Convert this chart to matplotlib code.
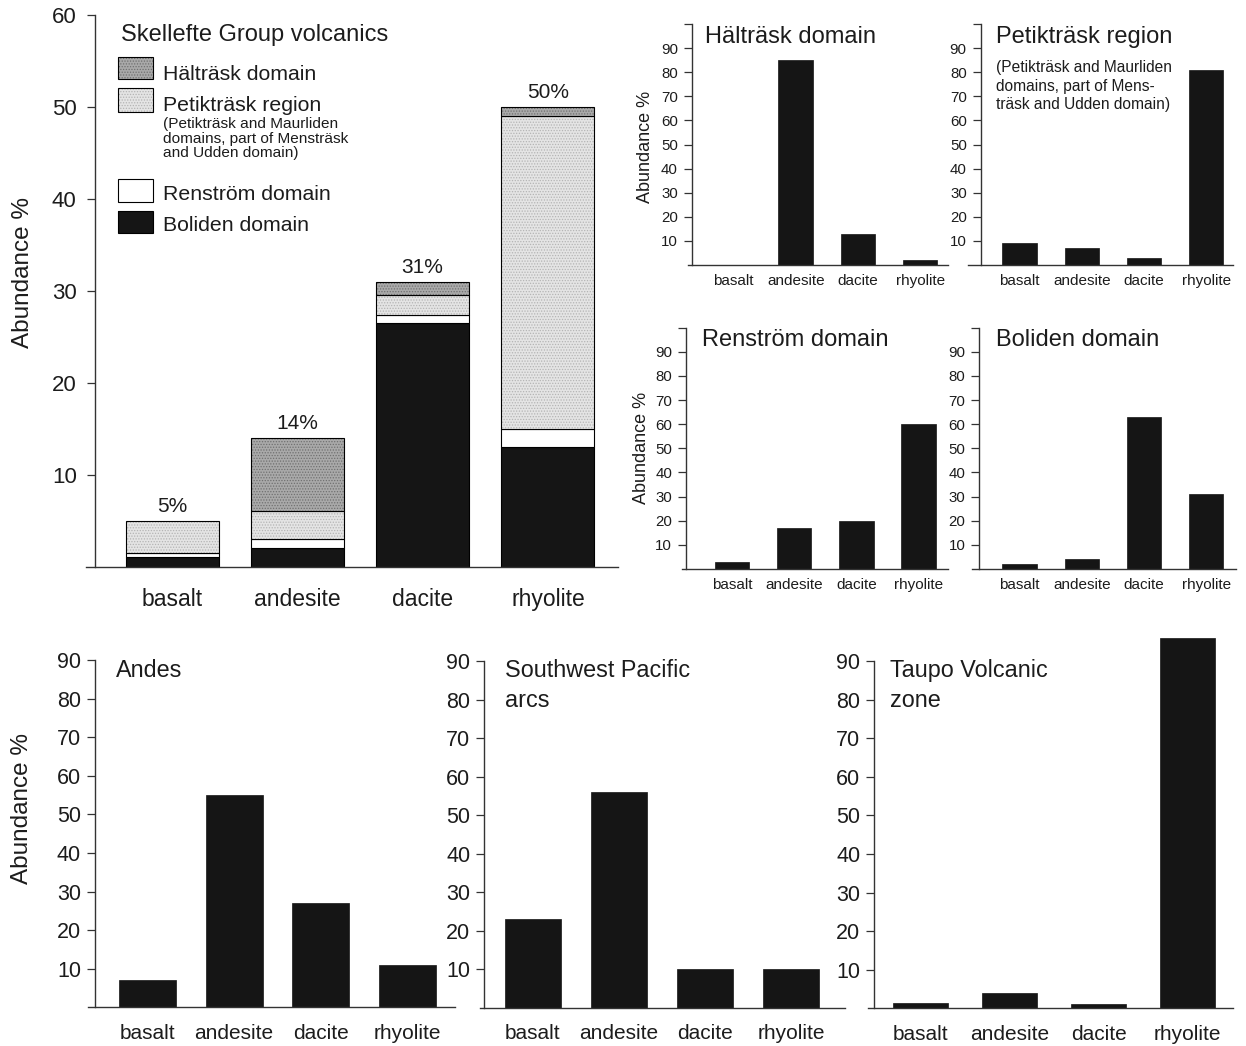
import matplotlib
matplotlib.use("Agg")
import matplotlib.pyplot as plt
from matplotlib.patches import Rectangle

plt.rcParams['font.family'] = ['Liberation Sans', 'DejaVu Sans']
plt.rcParams['hatch.linewidth'] = 0.6

W, H, DPI = 1246, 1046, 100

rocks = ["basalt", "andesite", "dacite", "rhyolite"]

# Skellefte Group: share of each domain in the total volcanic pile (%)
boliden_part = [1.0, 2.0, 26.5, 13.0]
renstrom_part = [0.5, 1.0, 0.9, 2.0]
petiktrask_part = [3.5, 3.0, 2.1, 34.0]
haltrask_part = [0.0, 8.0, 1.5, 1.0]

# Composition within each domain (%)
haltrask = [0, 85, 13, 2]
petiktrask = [9, 7, 3, 81]
renstrom = [3, 17, 20, 60]
boliden = [2, 4, 63, 31]

# Modern volcanic arcs (%)
andes = [7, 55, 27, 11]
sw_pacific = [23, 56, 10, 10]
taupo = [1.3, 4, 1.1, 96]

TEXT = '#1c1c1c'
SPINE = '#333333'
BAR = '#151515'
HALT_FACE, HALT_DOT = '#a9a9a9', '#707070'
PETIK_FACE, PETIK_DOT = '#e4e4e4', '#b4b4b4'

fig = plt.figure(figsize=(W / DPI, H / DPI), dpi=DPI)
fig.patch.set_facecolor('white')


def fx(px):
    return px / W


def fy(py):
    return 1 - py / H


def ftext(x, y, s, **kw):
    kw.setdefault('color', TEXT)
    return fig.text(fx(x), fy(y), s, **kw)


def labelled_ticks(ymax):
    return list(range(10, 91, 10)) if ymax > 60 else list(range(10, 61, 10))


def panel(left, right, top, bottom, axis_x, first, spacing, ymax,
          yticks, ytick_fs, ytick_pad, xtick_fs, xtick_pad):
    ax = fig.add_axes([fx(left), fy(bottom), (right - left) / W, (bottom - top) / H])
    ax.set_xlim((left - first) / spacing, (right - first) / spacing)
    ax.set_ylim(0, ymax)
    for side in ('top', 'right'):
        ax.spines[side].set_visible(False)
    ax.spines['left'].set_position(('data', (axis_x - first) / spacing))
    for side in ('left', 'bottom'):
        ax.spines[side].set_color(SPINE)
        ax.spines[side].set_linewidth(1.0)
    shown = labelled_ticks(ymax)
    ax.set_yticks(yticks)
    ax.set_yticklabels([str(t) if t in shown else '' for t in yticks])
    ax.tick_params(axis='y', direction='out', length=6, width=0.9, color=SPINE,
                   labelsize=ytick_fs, pad=ytick_pad, labelcolor=TEXT)
    ax.set_xticks(range(len(rocks)))
    ax.set_xticklabels(rocks)
    ax.tick_params(axis='x', length=0, labelsize=xtick_fs, pad=xtick_pad, labelcolor=TEXT)
    ax.patch.set_alpha(0)
    return ax


def hatched_bar(ax, x, h, bottom, width, face, dot):
    # flat tone, stipple on top, then a crisp outline over both
    ax.bar(x, h, width, bottom=bottom, color=face, linewidth=0)
    ax.bar(x, h, width, bottom=bottom, color='none', edgecolor=dot, hatch='......',
           linewidth=0)
    ax.bar(x, h, width, bottom=bottom, color='none', edgecolor='black', linewidth=0.8)


# ---------------- Skellefte Group stacked chart ----------------
main_spacing = 125.3
ax = panel(86, 618, 15, 566.5, 95, 172, main_spacing, 60,
           list(range(10, 61, 10)), 16, 7.2, 16.5, 15.5)
xs = list(range(len(rocks)))
bw = 93 / main_spacing
ax.bar(xs, boliden_part, bw, color=BAR, edgecolor='black', linewidth=0.8)
b1 = list(boliden_part)
ax.bar(xs, renstrom_part, bw, bottom=b1, color='white', edgecolor='black', linewidth=0.8)
b2 = [a + b for a, b in zip(b1, renstrom_part)]
hatched_bar(ax, xs, petiktrask_part, b2, bw, PETIK_FACE, PETIK_DOT)
b3 = [a + b for a, b in zip(b2, petiktrask_part)]
nz = [i for i in xs if haltrask_part[i] > 0]
hatched_bar(ax, nz, [haltrask_part[i] for i in nz], [b3[i] for i in nz], bw,
            HALT_FACE, HALT_DOT)
totals = [a + b for a, b in zip(b3, haltrask_part)]
for i, t in enumerate(totals):
    ax.annotate(f"{t:.0f}%", (i, t), xytext=(0, 6.2), textcoords='offset points',
                ha='center', va='baseline', fontsize=15, color=TEXT)

ftext(23, 272.5, "Abundance %", rotation=90, ha='center', va='center', fontsize=17.5)
ftext(121, 40.5, "Skellefte Group volcanics", fontsize=17, va='baseline')

legend_items = [
    ("Hälträsk domain", 57, 79, HALT_FACE, HALT_DOT, 79.5),
    ("Petikträsk region", 88.5, 112, PETIK_FACE, PETIK_DOT, 111.5),
    ("Renström domain", 179, 202, 'white', None, 200),
    ("Boliden domain", 211, 233, BAR, None, 231),
]
for label, y0, y1, face, dot, base in legend_items:
    box = ((fx(118), fy(y1)), 35 / W, (y1 - y0) / H)
    fig.add_artist(Rectangle(*box, transform=fig.transFigure, facecolor=face,
                             linewidth=0))
    if dot:
        fig.add_artist(Rectangle(*box, transform=fig.transFigure, facecolor='none',
                                 edgecolor=dot, hatch='......', linewidth=0))
    fig.add_artist(Rectangle(*box, transform=fig.transFigure, facecolor='none',
                             edgecolor='black', linewidth=0.8))
    ftext(163, base, label, fontsize=15.3, va='baseline')

for line, base in zip(["(Petikträsk and Maurliden",
                       "domains, part of Menstr\u00e4sk",
                       "and Udden domain)"], [128, 142.5, 157]):
    ftext(163, base, line, fontsize=11.1, va='baseline')

# ---------------- Domain panels ----------------
small_ticks = list(range(10, 101, 10))
domain_panels = [
    (haltrask, 688, 948, 24, 265, 691.5, 733.5, "Hälträsk domain", 705, 43),
    (petiktrask, 968, 1233, 24, 265, 980.5, 1019.6, "Petikträsk region", 996, 43),
    (renstrom, 682, 948, 327.6, 569, 686, 732, "Renström domain", 702, 346.5),
    (boliden, 972, 1236, 327.6, 569, 979, 1019.6, "Boliden domain", 996, 346.5),
]
for vals, l, r, t, b, axx, first, title, tx, ty in domain_panels:
    a = panel(l, r, t, b, axx, first, 62.2, 100, small_ticks, 10.8, 3.9, 11, 6.8)
    a.bar(range(4), vals, 34.5 / 62.2, color=BAR, edgecolor=BAR, linewidth=0.5)
    ftext(tx, ty, title, fontsize=17, va='baseline')

for line, base in zip(["(Petikträsk and Maurliden",
                       "domains, part of Mens-",
                       "träsk and Udden domain)"], [72.3, 90.7, 109.3]):
    ftext(996, base, line, fontsize=11.2, va='baseline')

ftext(645, 147, "Abundance %", rotation=90, ha='center', va='center', fontsize=13)
ftext(641, 448, "Abundance %", rotation=90, ha='center', va='center', fontsize=13)

# ---------------- Modern arc panels ----------------
big_ticks = list(range(10, 91, 10))
arc_panels = [
    (andes, 88, 455, 660, 1007.3, 95, 147.5, 86.5, 57, ["Andes"], 116),
    (sw_pacific, 480, 845, 661, 1007.7, 484.3, 532.8, 86.1, 55.5,
     ["Southwest Pacific", "arcs"], 505),
    (taupo, 868, 1233, 661, 1008.3, 874.3, 920.3, 89.1, 55,
     ["Taupo Volcanic", "zone"], 890),
]
for vals, l, r, t, b, axx, first, sp, bwp, lines, tx in arc_panels:
    a = panel(l, r, t, b, axx, first, sp, 90, big_ticks, 15.5, 4, 15, 12)
    a.bar(range(4), vals, bwp / sp, color=BAR, edgecolor=BAR, linewidth=0.5,
          clip_on=False)
    for k, line in enumerate(lines):
        ftext(tx, 676.7 + 30 * k, line, fontsize=16.8, va='baseline')

ftext(22, 808, "Abundance %", rotation=90, ha='center', va='center', fontsize=17.5)

fig.savefig("out.png", dpi=DPI, facecolor='white')
